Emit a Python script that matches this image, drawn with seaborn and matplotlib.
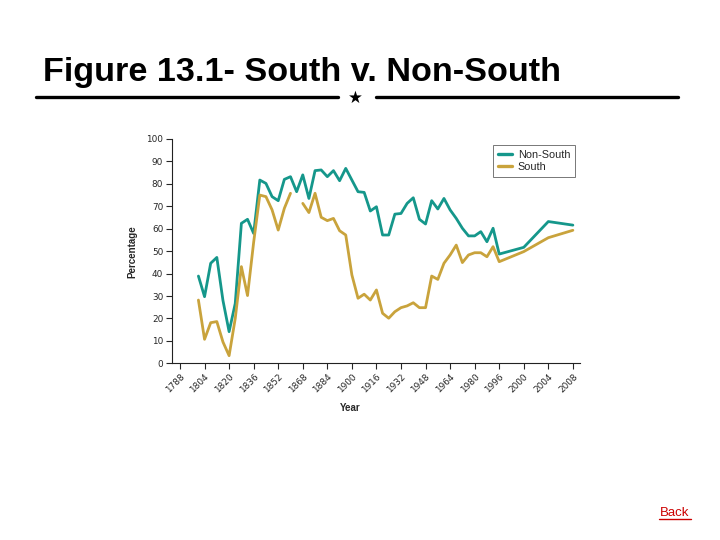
import numpy as np
import pandas as pd
import matplotlib
matplotlib.use("Agg")
import matplotlib.pyplot as plt
from matplotlib.lines import Line2D
import seaborn as sns

# ---- data ----
years = list(range(1800, 1997, 4)) + [2000, 2004, 2008]
non_south = [38.9, 29.7, 44.6, 47.2, 28.0, 14.1, 26.7, 62.4, 64.2, 57.9,
             81.7, 80.2, 74.3, 72.5, 82.0, 83.2, 76.5, 84.0, 73.5, 85.9,
             86.2, 83.2, 85.9, 81.4, 86.9, 81.7, 76.5, 76.2, 67.9, 69.8,
             57.2, 57.2, 66.5, 66.8, 71.3, 73.8, 64.2, 62.1, 72.5, 68.8,
             73.5, 68.4, 64.6, 60.2, 56.8, 56.8, 58.7, 54.2, 60.2, 48.7,
             51.7, 63.2, 61.6]
south = [28.2, 10.7, 18.1, 18.6, 9.5, 3.4, 20.0, 43.1, 30.2, 54.0,
         75.0, 74.3, 68.4, 59.4, 69.1, 75.8, np.nan, 71.3, 67.2, 75.8,
         65.1, 63.6, 64.6, 59.1, 57.2, 39.4, 29.0, 30.8, 28.2, 32.7,
         22.3, 20.1, 23.0, 24.8, 25.6, 27.0, 24.8, 24.8, 38.9, 37.4,
         44.6, 48.3, 52.7, 44.9, 48.3, 49.3, 49.3, 47.5, 52.0, 45.3,
         49.8, 56.0, 59.3]
tick_labels = ["1788", "1804", "1820", "1836", "1852", "1868", "1884", "1900",
               "1916", "1932", "1948", "1964", "1980", "1996", "2000", "2004",
               "2008"]
series_names = ["Non-South", "South"]
colors = {"Non-South": "#15978b", "South": "#c9a33c"}


def year_pos(y):
    # the original axis: one tick per 16 years up to 1996, then one per 4 years
    return (y - 1788) / 16.0 if y <= 1996 else 13 + (y - 1996) / 4.0


rows = []
for name, vals in zip(series_names, [non_south, south]):
    seg = 0
    for yr, v in zip(years, vals):
        if v is None or (isinstance(v, float) and np.isnan(v)):
            seg += 1
            continue
        rows.append({"series": name, "pos": year_pos(yr), "value": v, "seg": seg})
df = pd.DataFrame(rows)

# ---- style ----
sns.set_style("ticks")
plt.rcParams["font.family"] = ["DejaVu Sans"]

fig = plt.figure(figsize=(7.2, 5.4), dpi=100)
fig.patch.set_facecolor("white")

ax = fig.add_axes([171.5 / 720, 1 - 363.3 / 540, 408.5 / 720, 224.3 / 540])
sns.lineplot(data=df, x="pos", y="value", hue="series", units="seg",
             estimator=None, hue_order=series_names, palette=colors,
             linewidth=2.0, ax=ax, sort=False)

ax.set_xlim(-0.346, 16.29)
ax.set_ylim(0, 100)
ax.set_xticks(range(len(tick_labels)))
ax.set_xticklabels(tick_labels, rotation=45, ha="right", va="top",
                   rotation_mode="anchor", fontsize=6.4)
ax.set_yticks(range(0, 101, 10))
ax.tick_params(axis="y", labelsize=6.4, length=4, width=0.8, pad=2)
ax.tick_params(axis="x", length=4, width=0.8, pad=2.5)
for s in ["top", "right"]:
    ax.spines[s].set_visible(False)
for s in ["left", "bottom"]:
    ax.spines[s].set_linewidth(0.8)
    ax.spines[s].set_color("#222222")

ax.set_xlabel("Year", fontsize=7, fontweight="bold",
              family=["Liberation Sans", "DejaVu Sans"])
ax.xaxis.set_label_coords(0.437, -0.177)
ax.set_ylabel("Percentage", fontsize=7, fontweight="bold",
              family=["Liberation Sans", "DejaVu Sans"])
ax.yaxis.set_label_coords(-0.083, 0.5)

handles, labels = ax.get_legend_handles_labels()
leg = ax.legend(handles, labels, loc="upper right",
                bbox_to_anchor=(0.988, 0.973), frameon=True, fancybox=False,
                prop={"family": ["Liberation Sans", "DejaVu Sans"], "size": 7.8},
                handlelength=1.35, handletextpad=0.5, labelspacing=0.2,
                borderpad=0.45, borderaxespad=0)
leg.get_frame().set_edgecolor("#555555")
leg.get_frame().set_linewidth(0.7)
for h in leg.get_lines():
    h.set_linewidth(2.4)

# ---- slide decorations ----
fig.text(43 / 720, 1 - 81 / 540, "Figure 13.1- South v. Non-South",
         fontsize=24.6, fontweight="bold", ha="left", va="baseline",
         family=["Liberation Sans", "DejaVu Sans"], color="black")
fig.add_artist(Line2D([36 / 720, 338 / 720], [1 - 97 / 540] * 2,
                      color="black", linewidth=2.4))
fig.add_artist(Line2D([376 / 720, 678 / 720], [1 - 97 / 540] * 2,
                      color="black", linewidth=2.4))
fig.text(355 / 720, 1 - 98 / 540, "\u2605", fontsize=12, ha="center",
         va="center", color="black")

fig.text(675 / 720, 1 - 516 / 540, "Back", fontsize=9.5, ha="center",
         va="baseline", color="#cc0000",
         family=["Liberation Sans", "DejaVu Sans"])
fig.add_artist(Line2D([659 / 720, 691 / 720], [1 - 518.5 / 540] * 2,
                      color="#cc0000", linewidth=1.0))

fig.savefig("out.png", dpi=100, facecolor="white")
